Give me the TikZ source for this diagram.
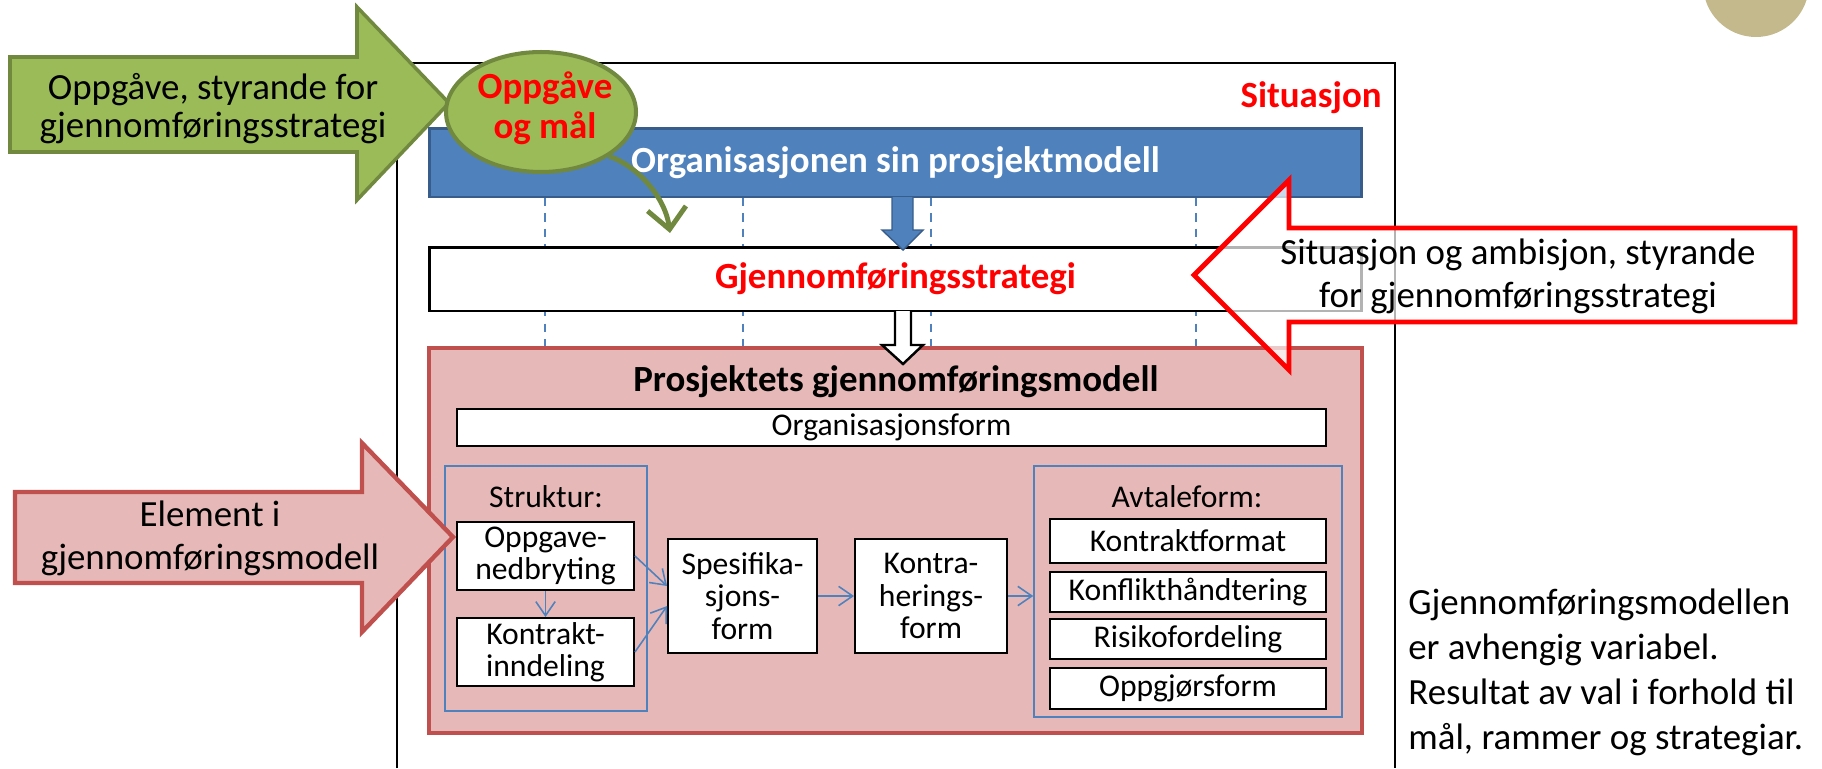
\documentclass[tikz,border=0pt]{standalone}
\usepackage{fontspec}
\setmainfont{Carlito}
\usetikzlibrary{shapes.geometric,arrows.meta}

\definecolor{gfill}{HTML}{9BBB59}
\definecolor{gline}{HTML}{71893F}
\definecolor{bfill}{HTML}{4F81BD}
\definecolor{bline}{HTML}{385D8A}
\definecolor{rfill}{HTML}{E6B9B8}
\definecolor{rline}{HTML}{C0504D}
\definecolor{lblue}{HTML}{4F81BD}
\definecolor{sand}{HTML}{C4B98C}

\begin{document}
\begin{tikzpicture}[x=0.02cm,y=-0.02cm,
    bigtext/.style={font=\fontsize{21}{24.5}\selectfont,align=center,inner sep=0pt},
    bigbold/.style={font=\bfseries\fontsize{21}{23}\selectfont,align=center,inner sep=0pt},
    box/.style={draw,line width=1.1pt,fill=white,inner sep=0pt,align=center,
        font=\fontsize{18}{18.5}\selectfont},
    thinframe/.style={draw=lblue,line width=0.9pt,inner sep=0pt},
    link/.style={lblue,line width=0.9pt,-{Straight Barb[length=8pt,width=11pt]}}]

        \useasboundingbox (0,0) rectangle (1822,768);
        \fill[sand] (1756,-16) circle[radius=1.06cm];

        % situasjon
        \draw[line width=0.9pt] (397,768) -- (397,63) -- (1395,63) -- (1395,768);
        \node[bigbold,text=red,anchor=east] (sit) at (1382,98) {Situasjon};

        \foreach \x in {545,743,931,1196}
            \draw[lblue,dash pattern=on 5pt off 4pt,line width=0.7pt] (\x,197) -- (\x,348);

        \node[draw=bline,fill=bfill,line width=1.7pt,minimum width=18.66cm,minimum height=1.38cm,
            bigbold,text=white] (orgmodel) at (895.5,162.5) {Organisasjonen sin prosjektmodell};
        \node[draw,fill=white,line width=1.7pt,minimum width=18.66cm,minimum height=1.28cm,
            bigbold,text=red] (strategy) at (895.5,279) {Gjennomføringsstrategi};

        % gjennomføringsmodell
        \node[draw=rline,fill=rfill,line width=2.3pt,minimum width=18.66cm,minimum height=7.70cm]
            (gmodel) at (895.5,540.5) {};
        \node[bigbold] (gtitle) at (896,382) {Prosjektets gjennomføringsmodell};
        \node[box,minimum width=17.38cm,minimum height=0.74cm] (orgform) at (891.5,427.5) {Organisasjonsform};

        \node[thinframe,minimum width=4.04cm,minimum height=4.90cm] (struct) at (546,588.5) {};
        \node[box,draw=none,fill=none] (sttitle) at (546,497) {Struktur:};
        \node[box,minimum width=3.54cm,minimum height=1.36cm] (oppg) at (545.5,556) {Oppgave-\\nedbryting};
        \node[box,minimum width=3.54cm,minimum height=1.36cm] (kontr) at (545.5,652) {Kontrakt-\\inndeling};
        \node[box,minimum width=2.98cm,minimum height=2.28cm] (spes) at (742.5,596) {Spesifika-\\sjons-\\form};
        \node[box,minimum width=3.04cm,minimum height=2.28cm] (kontra) at (931,596) {Kontra-\\herings-\\form};

        \node[thinframe,minimum width=6.16cm,minimum height=5.02cm] (avtale) at (1188,591.5) {};
        \node[box,draw=none,fill=none] (avtitle) at (1187,497) {Avtaleform:};
        \node[box,minimum width=5.52cm,minimum height=0.88cm] (kformat) at (1188,541) {Kontraktformat};
        \node[box,minimum width=5.52cm,minimum height=0.80cm] (konflikt) at (1188,592) {Konflikthåndtering};
        \node[box,minimum width=5.52cm,minimum height=0.80cm] (risiko) at (1188,639) {Risikofordeling};
        \node[box,minimum width=5.52cm,minimum height=0.82cm] (oppgj) at (1188,688.5) {Oppgjørsform};

        \draw[link] (oppg) -- (kontr);
        \draw[link] (oppg.east) -- ([yshift=0.2cm]spes.west);
        \draw[link] (kontr.east) -- ([yshift=-0.2cm]spes.west);
        \draw[link] (spes) -- (kontra);
        \draw[link] (kontra.east) -- (kontra.east -| avtale.west);

        % block arrows down
        \filldraw[draw=bline,fill=bfill,line width=0.8pt,line join=miter]
            (892,197) -- (892,230) -- (882,230) -- (903,250) -- (923,230) -- (913,230) -- (913,197);
        \filldraw[draw=black,fill=white,line width=1.4pt,line join=miter]
            (895,311) -- (895,345) -- (882,345) -- (903,364) -- (923,345) -- (911,345) -- (911,311);

        % element i gjennomføringsmodell
        \draw[draw=rline,fill=rfill,line width=2.5pt,line join=miter]
            (15,492) -- (362,492) -- (362,443) -- (453,537) -- (362,632) -- (362,583) -- (15,583) -- cycle;
        \node[bigtext] (elemtext) at (210,538) {Element i\\gjennomføringsmodell};

        % oppgåve
        \draw[draw=gline,fill=gfill,line width=2pt,line join=miter]
            (10,57) -- (357,57) -- (357,7) -- (449,103) -- (357,200) -- (357,152) -- (10,152) -- cycle;
        \node[bigtext,font=\fontsize{21}{21.6}\selectfont] (tasktext) at (213,109)
            {Oppgåve, styrande for\\gjennomføringsstrategi};
        \node[ellipse,draw=gline,fill=gfill,line width=2.3pt,minimum width=3.8cm,minimum height=2.4cm,
            inner sep=0pt] (goal) at (541,112) {};
        \node[bigbold,text=red,font=\bfseries\fontsize{21}{22.8}\selectfont] (goaltext) at (545,108)
            {Oppgåve\\og mål};
        \coordinate (goalend) at (670,233);
        \draw[gline,line width=2.8pt,-{Straight Barb[length=12pt,width=22pt]}]
            (goal.-33) .. controls (635,165) and (665,195) .. (goalend);

        % situasjon og ambisjon
        \draw[draw=red,fill=white,fill opacity=0.7,line width=2.8pt,line join=miter]
            (1795,228) -- (1289,228) -- (1289,180) -- (1194,275) -- (1289,370) -- (1289,322) -- (1795,322) -- cycle;
        \node[bigtext] (ambtext) at (1518,276) {Situasjon og ambisjon, styrande\\for gjennomføringsstrategi};

        \node[anchor=west,align=left,inner sep=0pt,font=\fontsize{21}{25.6}\selectfont] (note) at (1408,672)
            {Gjennomføringsmodellen\\er avhengig variabel.\\Resultat av val i forhold til\\mål, rammer og strategiar.};
    \end{tikzpicture}
\end{document}
